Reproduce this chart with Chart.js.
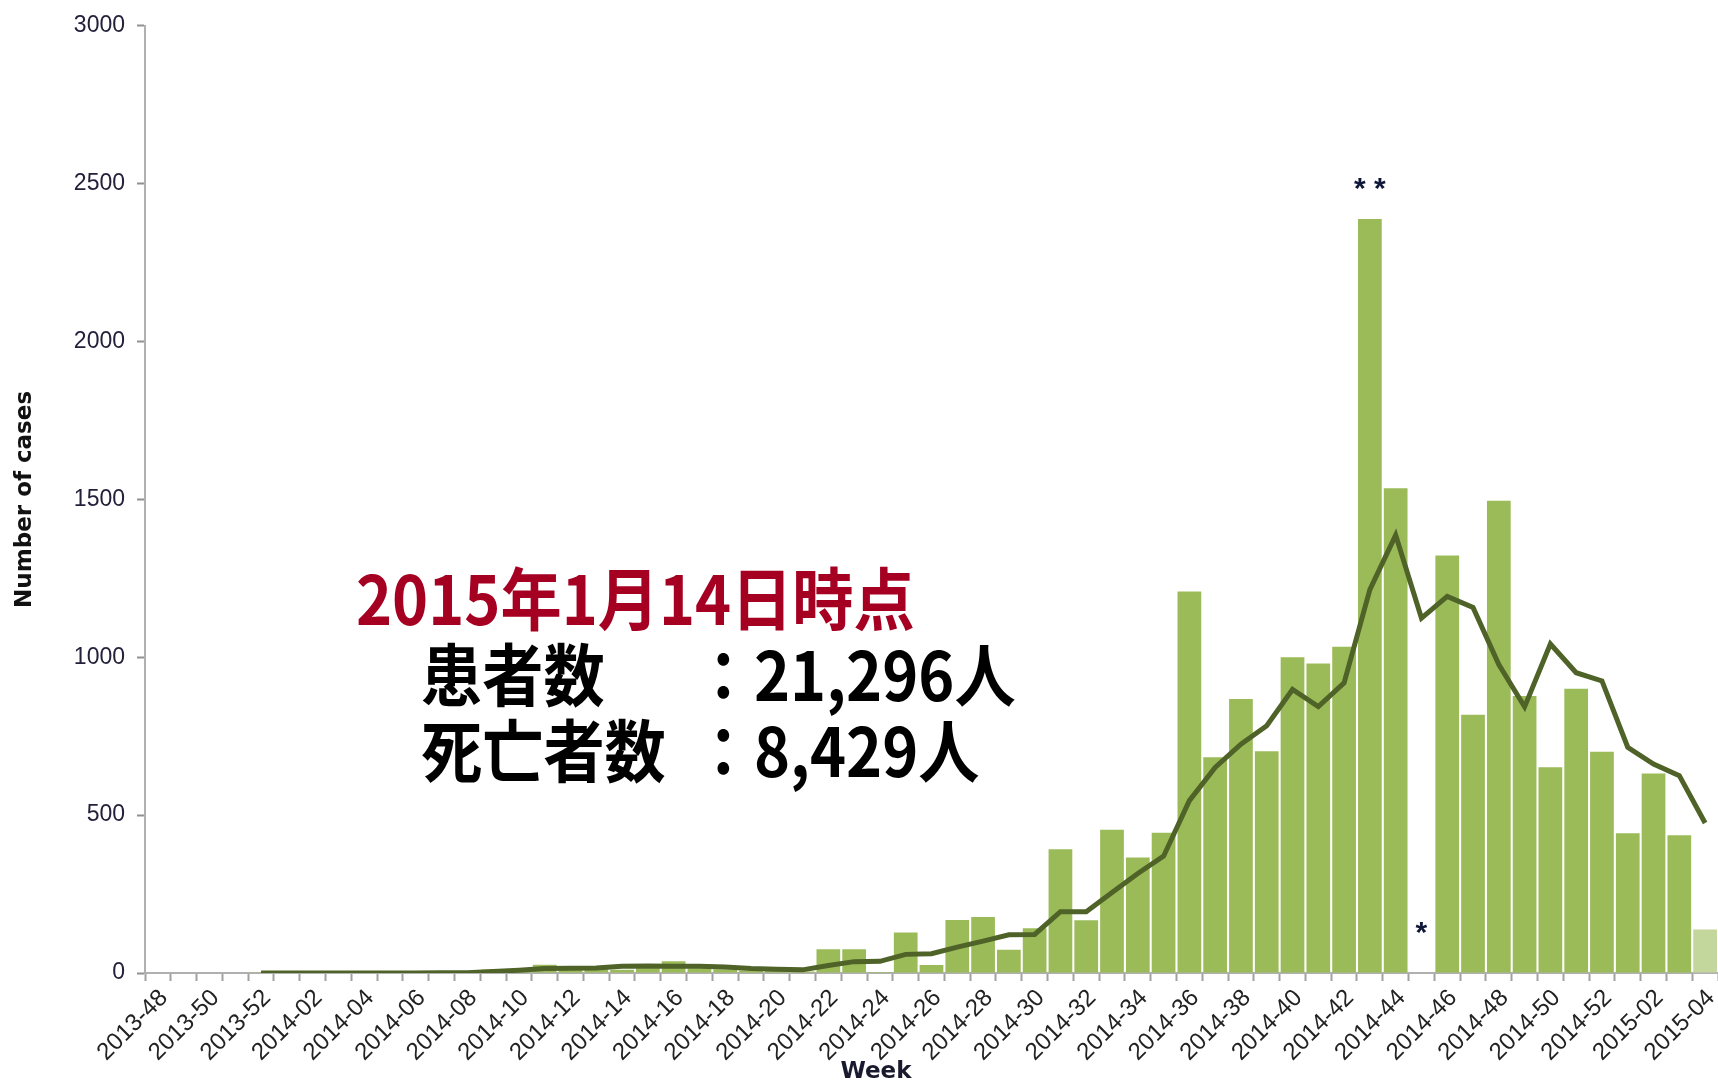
<!DOCTYPE html>
<html lang="ja">
<head>
<meta charset="utf-8">
<title>Weekly cases</title>
<script src="https://cdn.jsdelivr.net/npm/chart.js@4.4.1/dist/chart.umd.min.js"></script>
<style>
	html, body {
		margin: 0;
		padding: 0;
		background: #ffffff;
	}

	.chart-box {
		position: relative;
		width: 1718px;
		height: 1082px;
		overflow: hidden;
	}

	.note {
		position: absolute;
		font-family: "Noto Sans CJK JP", sans-serif;
		font-weight: 700;
		font-size: 68px;
		line-height: 1;
		white-space: nowrap;
		transform: scaleX(0.9);
		transform-origin: left top;
	}

	.note-date {
		left: 356px;
		top: 562px;
		color: #a50021;
	}

	.note-row {
		color: #000000;
		left: 421px;
	}

	.note-value {
		position: absolute;
		left: 302px;
		top: 0;
	}

	.axis-title-x {
		position: absolute;
		left: 776px;
		top: 1057px;
		width: 200px;
		text-align: center;
		font-family: "DejaVu Sans", sans-serif;
		font-weight: 700;
		font-size: 23px;
		color: #1a1a2e;
	}
</style>
</head>
<body>
<div class="chart-box">
	<canvas id="graphic-cases"></canvas>
	<div class="note note-date">2015年1月14日時点</div>
	<div class="note note-row" style="top: 638px;">患者数<span class="note-value">：21,296人</span></div>
	<div class="note note-row" style="top: 714px;">死亡者数<span class="note-value">：8,429人</span></div>
	<div class="axis-title-x">Week</div>
</div>
<script>
const graphicCases = document.querySelector("#graphic-cases");

// Weeks 2013-48 .. 2015-04

const weeks = [
	"2013-48", "2013-49", "2013-50", "2013-51", "2013-52",
	"2014-01", "2014-02", "2014-03", "2014-04", "2014-05", "2014-06", "2014-07", "2014-08", "2014-09", "2014-10",
	"2014-11", "2014-12", "2014-13", "2014-14", "2014-15", "2014-16", "2014-17", "2014-18", "2014-19", "2014-20",
	"2014-21", "2014-22", "2014-23", "2014-24", "2014-25", "2014-26", "2014-27", "2014-28", "2014-29", "2014-30",
	"2014-31", "2014-32", "2014-33", "2014-34", "2014-35", "2014-36", "2014-37", "2014-38", "2014-39", "2014-40",
	"2014-41", "2014-42", "2014-43", "2014-44", "2014-45", "2014-46", "2014-47", "2014-48", "2014-49", "2014-50",
	"2014-51", "2014-52", "2015-01", "2015-02", "2015-03", "2015-04",
];

// Weekly cases (bars); 2014-45 has no bar
const weeklyCases = [
	0, 0, 0, 0, 1,
	1, 1, 1, 1, 1, 1, 1, 2, 10, 4,
	26, 12, 12, 10, 15, 37, 15, 12, 8, 6,
	5, 75, 75, 3, 128, 25, 168, 177, 74, 142,
	392, 167, 454, 366, 444, 1208, 683, 868, 702, 1000,
	980, 1033, 2388, 1535, null, 1322, 818, 1496, 877, 652,
	900, 701, 443, 632, 436, 138,
];

// Trend line
const trendCases = [
	null, null, null, null, 0,
	0, 0, 0, 0, 0, 0, 1, 1, 5, 9,
	14, 15, 16, 21, 22, 21, 21, 19, 14, 12,
	10, 24, 36, 37, 59, 61, 82, 101, 121, 122,
	194, 194, 255, 315, 370, 546, 651, 725, 783, 898,
	844, 919, 1214, 1387, 1124, 1193, 1158, 977, 843, 1042,
	951, 925, 715, 662, 625, 475,
];

const yTicks = [0, 500, 1000, 1500, 2000, 2500, 3000];

// Footnote marks
const footnoteWeeks = ["2014-43", "2014-45"];
const footnoteText = ["**", "*"];
const footnoteValues = [2480, 125];

const barColor = "#9bbb59";
const barColorLast = "#c3d69b";
const lineColor = "#4f6228";

const barColors = weeks.map((week, index) => (index === weeks.length - 1 ? barColorLast : barColor));

const footnotePlugin = {
	id: "footnotes",
	afterDatasetsDraw(chart) {
		const { ctx } = chart;
		const xScale = chart.scales.x;
		const yScale = chart.scales.y;

		ctx.save();
		ctx.fillStyle = "#10183a";
		ctx.font = "bold 30px 'Liberation Sans'";
		ctx.textAlign = "center";
		ctx.textBaseline = "middle";
		footnoteWeeks.forEach((week, i) => {
			const x = xScale.getPixelForValue(weeks.indexOf(week));
			const y = yScale.getPixelForValue(footnoteValues[i]);
			const text = footnoteText[i].split("").join(" ");
			ctx.fillText(text, x, y);
		});
		ctx.restore();
	},
};

const graphic = new Chart(graphicCases, {
	type: "bar",
	data: {
		labels: weeks,
		datasets: [
			{
				type: "line",
				label: "Trend",
				data: trendCases,
				borderColor: lineColor,
				borderWidth: 5,
				pointRadius: 0,
				tension: 0,
				fill: false,
				order: 0,
			},
			{
				label: "Number of cases",
				data: weeklyCases,
				backgroundColor: barColors,
				borderWidth: 0,
				barPercentage: 1,
				categoryPercentage: 0.92,
				order: 1,
			},
		],
	},
	options: {
		responsive: true,
		maintainAspectRatio: false,
		animation: false,
		layout: {
			padding: { top: 22, right: 0, bottom: 0, left: 0 },
		},
		plugins: {
			legend: { display: false },
			tooltip: { enabled: false },
		},
		scales: {
			x: {
				offset: true,
				afterFit: (scale) => {
					scale.height = 109;
					scale.paddingRight = 0;
				},
				grid: {
					offset: true,
					drawOnChartArea: false,
					drawTicks: true,
					tickLength: 8,
					tickColor: "#a0a0a0",
					tickWidth: 2,
				},
				border: { color: "#b0b0b0", width: 2 },
				ticks: {
					autoSkip: false,
					minRotation: 45,
					maxRotation: 45,
					padding: 3,
					labelOffset: 6,
					color: "#222222",
					font: { family: "Liberation Sans", size: 24 },
					callback(value, index) {
						return index % 2 === 0 ? this.getLabelForValue(value) : "";
					},
				},
			},
			y: {
				min: 0,
				max: 3000,
				afterFit: (scale) => {
					scale.width = 145;
				},
				afterBuildTicks: (scale) => {
					scale.ticks = yTicks.map((v) => ({ value: v }));
				},
				grid: {
					drawOnChartArea: false,
					drawTicks: true,
					tickLength: 8,
					tickColor: "#909090",
					tickWidth: 2,
				},
				border: { color: "#b0b0b0", width: 2 },
				ticks: {
					padding: 12,
					color: "#23203a",
					font: { family: "Liberation Sans", size: 23 },
					callback: (value) => String(value),
				},
				title: {
					display: true,
					text: "Number of cases",
					color: "#111111",
					font: { family: "DejaVu Sans", size: 23, weight: "bold" },
					padding: { top: 11, bottom: 0 },
				},
			},
		},
	},
	plugins: [footnotePlugin],
});
</script>
</body>
</html>
